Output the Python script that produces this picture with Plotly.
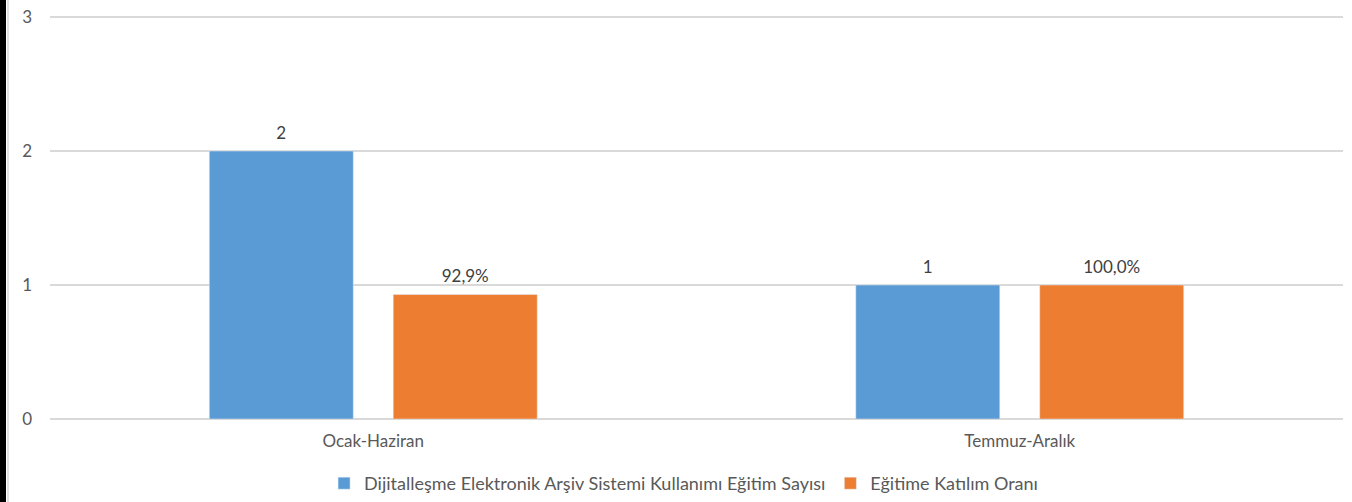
import plotly.graph_objects as go

categories = ["Ocak-Haziran", "Temmuz-Aralık"]
egitim_sayisi = [2, 1]
katilim_orani = [0.929, 1.0]
series_names = ["Dijitalleşme Elektronik Arşiv Sistemi Kullanımı Eğitim Sayısı", "Eğitime Katılım Oranı"]
y_ticks = [0, 1, 2, 3]

font_family = "Lato, 'Open Sans', sans-serif"
text_color = "#595959"
label_color = "#404040"
colors = ["#5B9BD5", "#ED7D31"]

fig = go.Figure()
fig.add_trace(go.Bar(
    x=categories, y=egitim_sayisi, name=series_names[0],
    marker=dict(color=colors[0]), offsetgroup="a", alignmentgroup="g",
))
fig.add_trace(go.Bar(
    x=categories, y=katilim_orani, name=series_names[1],
    marker=dict(color=colors[1]), offsetgroup="b", alignmentgroup="g",
))
# data labels
fig.add_trace(go.Scatter(
    x=categories, y=egitim_sayisi, mode="markers+text", offsetgroup="a", alignmentgroup="g",
    text=[str(v) for v in egitim_sayisi], textposition="top center",
    marker=dict(size=11, color="rgba(0,0,0,0)"),
    textfont=dict(size=17, color=label_color, family=font_family),
    showlegend=False, hoverinfo="skip", cliponaxis=False,
))
fig.add_trace(go.Scatter(
    x=categories, y=katilim_orani, mode="markers+text", offsetgroup="b", alignmentgroup="g",
    texttemplate="%{y:.1%}", textposition="top center",
    marker=dict(size=11, color="rgba(0,0,0,0)"),
    textfont=dict(size=17, color=label_color, family=font_family),
    showlegend=False, hoverinfo="skip", cliponaxis=False,
))

fig.update_layout(
    width=1352, height=502,
    margin=dict(l=50, r=9, t=15, b=83),
    paper_bgcolor="white", plot_bgcolor="white",
    separators=",.",
    barmode="group", bargap=0.431, bargroupgap=0.217,
    scattermode="group", scattergap=0.431,
    font=dict(family=font_family, size=17, color=text_color),
    legend=dict(orientation="h", x=0.49, xanchor="center",
                yref="container", y=0.0, yanchor="bottom",
                font=dict(size=18, color=text_color),
                traceorder="normal"),
    showlegend=True,
    shapes=[
        dict(type="rect", xref="paper", yref="paper",
             x0=-50/1293, x1=-44/1293, y0=-83/404, y1=1+15/404,
             fillcolor="black", line=dict(width=0), layer="above"),
        dict(type="line", xref="paper", yref="paper",
             x0=-42/1293, x1=-42/1293, y0=-83/404, y1=1+15/404,
             line=dict(color="#D9D9D9", width=1.5)),
    ],
)
fig.update_xaxes(showline=False, ticks="", tickfont=dict(size=17, color=text_color),
                 ticklabelstandoff=10, automargin=False)
fig.update_yaxes(range=[0, 3.015], tickvals=y_ticks, showgrid=True, gridcolor="#D9D9D9",
                 gridwidth=1.5, zeroline=True, zerolinecolor="#D9D9D9", zerolinewidth=1.5,
                 showline=False, ticks="", tickfont=dict(size=17, color=text_color),
                 ticklabelstandoff=17, automargin=False)

fig.write_html("out.html", config={"displayModeBar": False},
               post_script="document.body.style.margin='0';document.body.style.overflow='hidden';")
